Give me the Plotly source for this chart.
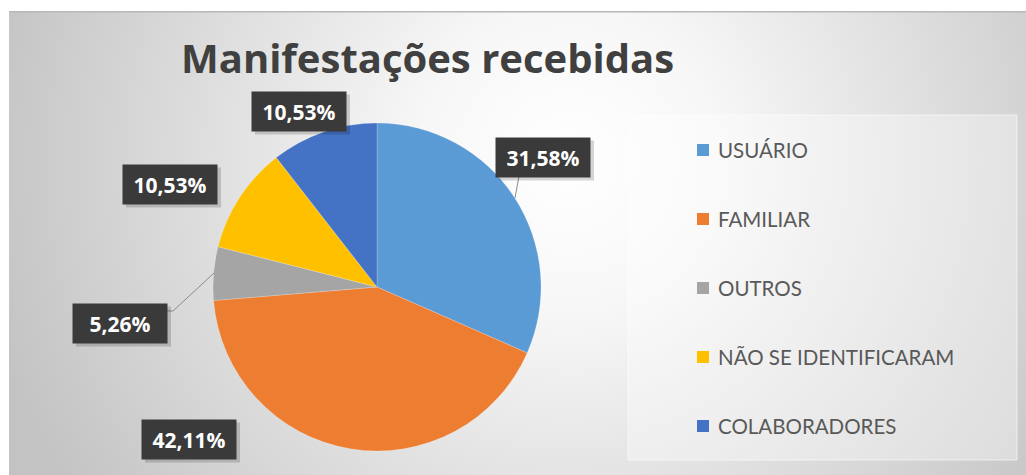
import base64
import plotly.graph_objects as go

# data
categories = ["USUÁRIO", "FAMILIAR", "OUTROS", "NÃO SE IDENTIFICARAM", "COLABORADORES"]
counts = [6, 8, 1, 2, 2]
colors = ["#5B9BD5", "#ED7D31", "#A5A5A5", "#FFC000", "#4472C4"]

W, H = 1026, 475


def px(x):
    return x / W


def py(y):
    return 1 - y / H


total = sum(counts)
pct_text = [f"{v / total * 100:.2f}%".replace(".", ",") for v in counts]

# label box centres (pixels), Excel "best fit" placement
label_pos = [(543, 157), (189, 439), (120, 323), (170, 184), (299, 111)]
box_w, box_h = 94, 39

# radial gradient background as an svg image
bg_w, bg_h = W - 9, H - 11
svg = f"""<svg xmlns='http://www.w3.org/2000/svg' width='{bg_w}' height='{bg_h}' viewBox='0 0 {bg_w} {bg_h}' preserveAspectRatio='none'>
<defs><radialGradient id='g' gradientUnits='userSpaceOnUse' cx='560' cy='150' r='600'>
<stop offset='0' stop-color='#ffffff'/><stop offset='0.25' stop-color='#f7f7f7'/>
<stop offset='1' stop-color='#c3c3c3'/></radialGradient></defs>
<rect width='{bg_w}' height='{bg_h}' fill='url(#g)'/>
<rect width='{bg_w}' height='1.5' fill='#b8b8b8'/></svg>"""
bg_src = "data:image/svg+xml;base64," + base64.b64encode(svg.encode()).decode()

cx, cy, r = 377, 287, 164

fig = go.Figure()
fig.add_trace(
    go.Pie(
        labels=categories,
        values=counts,
        marker=dict(colors=colors, line=dict(color="rgba(255,255,255,0.4)", width=0.5)),
        sort=False,
        direction="clockwise",
        rotation=0,
        textinfo="none",
        hoverinfo="label+percent",
        showlegend=False,
        domain=dict(x=[px(cx - r), px(cx + r)], y=[py(cy + r), py(cy - r)]),
    )
)

annotations = [
    dict(
        text="<b>Manifestações recebidas</b>",
        x=px(427), y=py(58), xref="paper", yref="paper",
        xanchor="center", yanchor="middle", showarrow=False,
        font=dict(family="Open Sans", size=40, color="#404040"),
    )
]

shapes = [
    # legend box
    dict(type="rect", xref="paper", yref="paper",
         x0=px(628), x1=px(1017), y0=py(460), y1=py(115),
         fillcolor="rgba(255,255,255,0.35)", line=dict(color="rgba(255,255,255,0.6)", width=1),
         layer="below"),
    # leader lines
    dict(type="path", xref="paper", yref="paper",
         path=f"M {px(214)},{py(273)} L {px(173)},{py(311)} L {px(162)},{py(311)}",
         line=dict(color="#8c8c8c", width=1)),
    dict(type="line", xref="paper", yref="paper",
         x0=px(519), y0=py(176), x1=px(515), y1=py(198),
         line=dict(color="#8c8c8c", width=1)),
]

for txt, (lx, ly) in zip(pct_text, label_pos):
    # soft drop shadow under each data label
    shapes.append(dict(type="rect", xref="paper", yref="paper",
                       x0=px(lx - box_w / 2 + 3), x1=px(lx + box_w / 2 + 4),
                       y0=py(ly + box_h / 2 + 4), y1=py(ly - box_h / 2 + 3),
                       fillcolor="rgba(0,0,0,0.16)", line=dict(width=0)))
    annotations.append(
        dict(
            text=f"<b>{txt}</b>",
            x=px(lx), y=py(ly), xref="paper", yref="paper",
            xanchor="center", yanchor="middle", showarrow=False,
            font=dict(family="Open Sans", size=21, color="white"),
            bgcolor="#3a3a3a", borderpad=6, width=box_w - 12, height=box_h - 12,
        )
    )

# manual legend
leg_y0, leg_step = 150, 69
for i, (name, col) in enumerate(zip(categories, colors)):
    yy = leg_y0 + i * leg_step
    shapes.append(dict(type="rect", xref="paper", yref="paper",
                       x0=px(697), x1=px(709), y0=py(yy + 6), y1=py(yy - 6),
                       fillcolor=col, line=dict(width=0)))
    annotations.append(dict(text=name, x=px(716), y=py(yy), xref="paper", yref="paper",
                            xanchor="left", yanchor="middle", showarrow=False,
                            font=dict(family="Lato", size=20.5, color="#595959")))

fig.update_layout(
    width=W, height=H,
    margin=dict(l=0, r=0, t=0, b=0),
    paper_bgcolor="white",
    plot_bgcolor="white",
    images=[dict(source=bg_src, xref="paper", yref="paper",
                 x=px(9), y=py(11), sizex=bg_w / W, sizey=bg_h / H,
                 xanchor="left", yanchor="top", sizing="stretch", layer="below")],
    shapes=shapes,
    annotations=annotations,
)

# drop the default page margin so the figure sits at the window origin
fig.write_html("out.html", config={"displayModeBar": False},
               post_script="document.body.style.margin='0';")
